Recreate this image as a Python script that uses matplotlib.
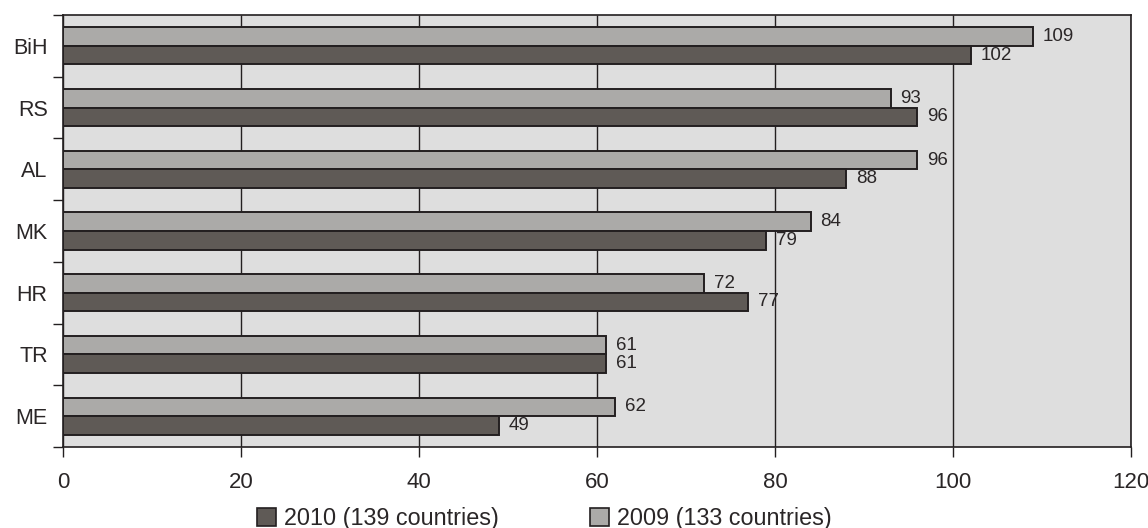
import matplotlib
matplotlib.use("Agg")
import matplotlib.pyplot as plt
from matplotlib.patches import Patch
import numpy as np

plt.rcParams["font.family"] = ["Liberation Sans", "DejaVu Sans"]

# Ranking by country (lower is better), top to bottom
countries = ["BiH", "RS", "AL", "MK", "HR", "TR", "ME"]
rank_2009 = [109, 93, 96, 84, 72, 61, 62]
rank_2010 = [102, 96, 88, 79, 77, 61, 49]
x_ticks = [0, 20, 40, 60, 80, 100, 120]
label_2010 = "2010 (139 countries)"
label_2009 = "2009 (133 countries)"

c_dark = "#5f5a56"
c_light = "#abaaa8"
c_bg = "#dedede"
c_line = "#231f20"
c_text = "#2a2627"

W, H, DPI = 1148, 528, 100
fig = plt.figure(figsize=(W / DPI, H / DPI), dpi=DPI)
ax = fig.add_axes([63 / W, 1 - 447 / H, (1131 - 63) / W, (447 - 15) / H])
ax.set_facecolor(c_bg)

y = np.arange(len(countries))
h = 0.3
bars09 = ax.barh(y - h / 2, rank_2009, height=h, color=c_light,
                 edgecolor=c_line, linewidth=1.4, zorder=3)
bars10 = ax.barh(y + h / 2, rank_2010, height=h, color=c_dark,
                 edgecolor=c_line, linewidth=1.4, zorder=3)

for bars, vals in ((bars09, rank_2009), (bars10, rank_2010)):
    for b, v in zip(bars, vals):
        ax.annotate(str(v), xy=(v, b.get_y() + b.get_height() / 2),
                    xytext=(7, 0), textcoords="offset points",
                    ha="left", va="center", fontsize=13.5, color=c_text,
                    zorder=4)

ax.set_xlim(0, 120)
ax.set_ylim(len(countries) - 0.5, -0.5)
ax.set_xticks(x_ticks)
ax.set_xticklabels([str(t) for t in x_ticks])
ax.set_yticks(y)
ax.set_yticklabels(countries)
ax.set_yticks(np.arange(-0.5, len(countries), 1.0), minor=True)

ax.grid(axis="x", color=c_line, linewidth=1.0, zorder=1,
        solid_capstyle="butt")
ax.set_axisbelow(True)

ax.tick_params(axis="x", direction="out", length=7, width=1.0, top=False,
               color=c_line, labelsize=16, labelcolor=c_text, pad=11)
ax.tick_params(axis="y", which="major", length=0, labelsize=15.5,
               labelcolor=c_text, pad=11)
ax.tick_params(axis="y", which="minor", direction="out", length=7,
               width=1.0, color=c_line, right=False)

for s in ax.spines.values():
    s.set_color(c_line)
    s.set_linewidth(1.2)

handles = [Patch(facecolor=c_dark, edgecolor=c_line, linewidth=1.2, label=label_2010),
           Patch(facecolor=c_light, edgecolor=c_line, linewidth=1.2, label=label_2009)]
fig.legend(handles=handles, loc="lower left", bbox_to_anchor=(257 / W, -0.004),
           ncol=2, frameon=False, fontsize=16.8, handlelength=0.82,
           handleheight=0.82, handletextpad=0.35, columnspacing=3.9,
           borderpad=0.0, borderaxespad=0.0, labelcolor=c_text)

fig.savefig("out.png", dpi=DPI)
